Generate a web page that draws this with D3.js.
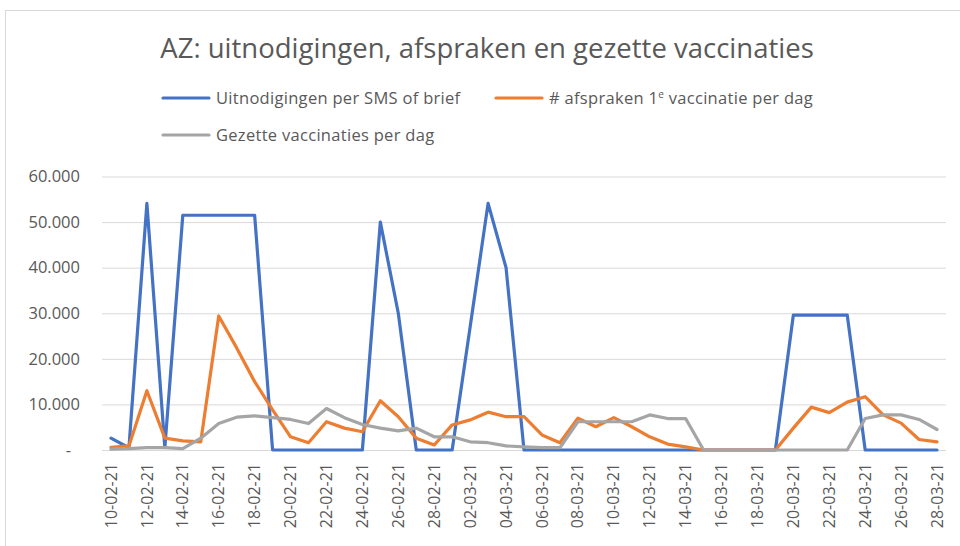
<!DOCTYPE html>
<html>
<head>
<meta charset="utf-8">
<script src="https://cdn.jsdelivr.net/npm/d3@7"></script>
<style>
  body { margin: 0; background: #fff; }
  text { font-family: "Open Sans", sans-serif; fill: #595959; }
</style>
</head>
<body>
<script>
// categories: one per day
var dates = ["10-02-21","11-02-21","12-02-21","13-02-21","14-02-21","15-02-21","16-02-21","17-02-21",
  "18-02-21","19-02-21","20-02-21","21-02-21","22-02-21","23-02-21","24-02-21","25-02-21","26-02-21",
  "27-02-21","28-02-21","01-03-21","02-03-21","03-03-21","04-03-21","05-03-21","06-03-21","07-03-21",
  "08-03-21","09-03-21","10-03-21","11-03-21","12-03-21","13-03-21","14-03-21","15-03-21","16-03-21",
  "17-03-21","18-03-21","19-03-21","20-03-21","21-03-21","22-03-21","23-03-21","24-03-21","25-03-21",
  "26-03-21","27-03-21","28-03-21"];

// series values
var uitnodigingen = [2600, 500, 54100, 500, 51500, 51500, 51500, 51500, 51500, 0, 0, 0, 0, 0, 0,
  50000, 30000, 0, 0, 0, 27000, 54100, 40000, 0, 0, 0, 0, 0, 0, 0, 0, 0, 0, 0, 0, 0, 0, 0,
  29600, 29600, 29600, 29600, 0, 0, 0, 0, 0];
var afspraken = [600, 900, 13000, 2600, 2000, 1800, 29400, 22400, 15000, 8800, 2900, 1600, 6200, 4800,
  4000, 10800, 7300, 2600, 1100, 5500, 6600, 8300, 7300, 7300, 3300, 1600, 7000, 5100, 7100, 5100,
  2900, 1300, 700, 0, 0, 0, 0, 0, 4800, 9400, 8200, 10500, 11700, 7700, 5900, 2300, 1800];
var gezet = [200, 300, 500, 500, 300, 2600, 5800, 7200, 7500, 7100, 6700, 5800, 9100, 7100, 5600,
  4800, 4200, 4800, 2900, 2900, 1800, 1600, 900, 700, 500, 500, 6200, 6200, 6200, 6200, 7700, 6900,
  6900, 0, 0, 0, 0, 0, 0, 0, 0, 0, 6900, 7700, 7700, 6700, 4500];

var yTicks = [0, 10000, 20000, 30000, 40000, 50000, 60000];

var seriesNames = ["Uitnodigingen per SMS of brief", "# afspraken 1", "Gezette vaccinaties per dag"];
var colors = ["#4472C4", "#ED7D31", "#A5A5A5"];

var svgWidth = 960, svgHeight = 546;
var plot = { left: 102, right: 946, top: 176.5, bottom: 450 };

var svg = d3.select("body").append("svg")
  .attr("width", svgWidth)
  .attr("height", svgHeight);

// chart border (only top/left visible in the crop)
svg.append("rect")
  .attr("x", 5.5).attr("y", 10.5)
  .attr("width", 1000).attr("height", 1000)
  .attr("fill", "none").attr("stroke", "#d9d9d9");

var x = d3.scaleBand().domain(dates).range([plot.left, plot.right]).padding(0);
var y = d3.scaleLinear().domain([0, 60000]).range([plot.bottom, plot.top]);
var cx = function(d) { return x(d) + x.bandwidth() / 2; };

var nl = d3.formatLocale({ decimal: ",", thousands: ".", grouping: [3], currency: ["", ""] });
var fmt = nl.format(",");

// gridlines
svg.append("g").selectAll("line")
  .data(yTicks).enter()
  .append("line")
  .attr("x1", plot.left).attr("x2", plot.right)
  .attr("y1", d => y(d) + 0.5).attr("y2", d => y(d) + 0.5)
  .attr("stroke", "#d9d9d9").attr("stroke-width", 1);

// y axis labels
var leftAxis = d3.axisLeft(y).tickValues(yTicks).tickSize(0).tickPadding(22)
  .tickFormat(d => d === 0 ? "-" : fmt(d));
var gy = svg.append("g").attr("transform", "translate(" + plot.left + ",0)").call(leftAxis);
gy.select(".domain").remove();
gy.selectAll("text").style("font-size", "16.5px").attr("fill", "#595959")
  .attr("dx", d => d === 0 ? -9 : 0);

// x axis labels
var bottomAxis = d3.axisBottom(x).tickValues(dates.filter((d, i) => i % 2 === 0)).tickSize(0);
var gx = svg.append("g").attr("transform", "translate(0," + plot.bottom + ")").call(bottomAxis);
gx.select(".domain").remove();
gx.selectAll("text")
  .style("font-size", "16px").attr("fill", "#595959")
  .attr("text-anchor", "end")
  .attr("transform", "rotate(-90)")
  .attr("x", -13).attr("y", 0).attr("dy", "0.35em");

// lines
var allSeries = [uitnodigingen, afspraken, gezet];
var line = d3.line()
  .x((d, i) => cx(dates[i]))
  .y(d => y(d));

svg.append("g").selectAll("path")
  .data(allSeries).enter()
  .append("path")
  .attr("d", d => line(d))
  .attr("fill", "none")
  .attr("stroke", (d, i) => colors[i])
  .attr("stroke-width", 3.2)
  .attr("stroke-linejoin", "round")
  .attr("stroke-linecap", "round");

// title
svg.append("text")
  .attr("x", 487).attr("y", 58)
  .attr("text-anchor", "middle")
  .style("font-size", "27.5px")
  .text("AZ: uitnodigingen, afspraken en gezette vaccinaties");

// legend
var legendPos = [[163, 98], [496, 98], [163, 135]];
var lg = svg.append("g").selectAll("g")
  .data(seriesNames).enter()
  .append("g")
  .attr("transform", (d, i) => "translate(" + legendPos[i][0] + "," + legendPos[i][1] + ")");
lg.append("line")
  .attr("x1", 0).attr("x2", 46)
  .attr("stroke", (d, i) => colors[i])
  .attr("stroke-width", 3.2)
  .attr("stroke-linecap", "round");
var lt = lg.append("text")
  .attr("x", 53).attr("dy", "0.35em")
  .style("font-size", "16.5px")
  .style("letter-spacing", "0.3px")
  .text(d => d);
lt.filter((d, i) => i === 1).each(function() {
  var t = d3.select(this);
  t.append("tspan").attr("dy", "-6px").style("font-size", "10px").text("e");
  t.append("tspan").attr("dy", "6px").text(" vaccinatie per dag");
});
</script>
</body>
</html>
